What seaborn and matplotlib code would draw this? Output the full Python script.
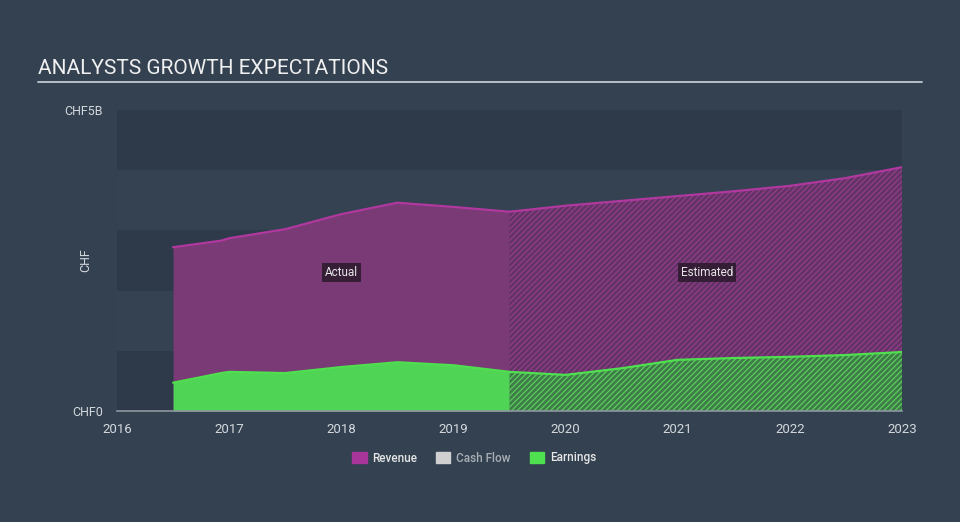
import matplotlib
matplotlib.use("Agg")
import matplotlib.pyplot as plt
import matplotlib.patches as mpatches
import seaborn as sns
import pandas as pd

# values in CHF billions
years = [2016.5, 2016.93, 2017.0, 2017.5, 2018.0, 2018.5, 2019.0, 2019.5,
         2020.0, 2020.5, 2021.0, 2021.5, 2022.0, 2022.5, 2023.0]
revenue = [2.72, 2.83, 2.87, 3.02, 3.27, 3.46, 3.39, 3.31,
           3.41, 3.49, 3.57, 3.65, 3.74, 3.87, 4.05]
earnings = [0.47, 0.63, 0.65, 0.63, 0.73, 0.81, 0.76, 0.65,
            0.60, 0.71, 0.85, 0.88, 0.90, 0.93, 0.98]
split_year = 2019.5
xticks = [2016, 2017, 2018, 2019, 2020, 2021, 2022, 2023]
ytick_labels = ["CHF0", "CHF5B"]
legend_labels = ["Revenue", "Cash Flow", "Earnings"]

df = pd.DataFrame({"year": years, "Revenue": revenue, "Earnings": earnings})
actual = df[df["year"] <= split_year]
estimated = df[df["year"] >= split_year]

BG = "#334151"
BAND_DARK = "#2e3a4a"
BAND_LIGHT = "#344252"
REV_FILL = "#7a3a75"
REV_LINE = "#b0389f"
REV_EST = "#643365"
EARN_FILL = "#50d455"
EARN_LINE = "#4fe04f"
EARN_EST = "#3e7c47"
TXT = "#d4d8dc"

sns.set_style("dark")
plt.rcParams["font.family"] = ["Roboto", "DejaVu Sans"]
plt.rcParams["hatch.linewidth"] = 0.9

fig = plt.figure(figsize=(9.6, 5.22), dpi=100, facecolor=BG)
ax = fig.add_axes([117 / 960, (522 - 411) / 522, (902 - 117) / 960, 301 / 522])
ax.set_facecolor(BG)

# alternating bands, 1B each
for i in range(5):
    ax.axhspan(i, i + 1, color=BAND_DARK if i % 2 == 0 else BAND_LIGHT, zorder=0, lw=0)

# actual areas
ax.fill_between(actual["year"], 0, actual["Revenue"], color=REV_FILL, lw=0, zorder=1)
ax.fill_between(actual["year"], 0, actual["Earnings"], color=EARN_FILL, lw=0, zorder=2)

# estimated areas (hatched)
ax.fill_between(estimated["year"], 0, estimated["Revenue"], facecolor=REV_EST,
                edgecolor="#923d8b", hatch="//////", lw=0, zorder=1)
ax.fill_between(estimated["year"], 0, estimated["Earnings"], facecolor=EARN_EST,
                edgecolor="#5ccc5e", hatch="//////", lw=0, zorder=2)

sns.lineplot(data=df, x="year", y="Revenue", ax=ax, color=REV_LINE, lw=1.6, zorder=3)
sns.lineplot(data=df, x="year", y="Earnings", ax=ax, color=EARN_LINE, lw=1.6, zorder=3)

ax.set_xlim(2016, 2023)
ax.set_ylim(0, 5)
ax.set_xticks(xticks)
ax.set_xticklabels([str(x) for x in xticks], color=TXT, fontsize=9.5)
ax.set_yticks([0, 5])
ax.set_yticklabels(ytick_labels, color=TXT, fontsize=9)
ax.tick_params(axis="x", direction="out", length=8, width=1, color="#8d97a1", pad=0.5)
ax.tick_params(axis="y", length=0, pad=10)
ax.set_xlabel("")
ax.set_ylabel("CHF", color=TXT, fontsize=9)
ax.yaxis.set_label_coords(-0.031, 0.5)
for side in ["top", "right", "left"]:
    ax.spines[side].set_visible(False)
ax.spines["bottom"].set_visible(True)
ax.spines["bottom"].set_color("#8d97a1")
ax.spines["bottom"].set_linewidth(1.2)
ax.grid(False)

box = dict(boxstyle="square,pad=0.25", facecolor="#2a1a2c", edgecolor="none", alpha=0.85)
ax.text(2018.0, 2.3, "Actual", color="#e6e6e6", fontsize=8.5, ha="center", va="center",
        bbox=box, zorder=4)
ax.text(2021.26, 2.3, "Estimated", color="#e6e6e6", fontsize=8.5, ha="center", va="center",
        bbox=box, zorder=4)

# title and rule
fig.text(38 / 960, 1 - 68 / 522, "ANALYSTS GROWTH EXPECTATIONS", color="#f0f0f0",
         fontsize=15, ha="left", va="center")
fig.add_artist(plt.Line2D([38 / 960, 922 / 960], [1 - 82 / 522, 1 - 82 / 522],
                          color="#c4c8cc", lw=1.3))

handles = [mpatches.Patch(color="#a8359a"), mpatches.Patch(color="#d0d0d0"),
           mpatches.Patch(color="#4fe04f")]
leg = fig.legend(handles, legend_labels, loc="center", bbox_to_anchor=(0.494, 1 - 458 / 522),
                 ncol=3, frameon=False, fontsize=8.5, handlelength=1.2, handleheight=1.0,
                 columnspacing=1.6, handletextpad=0.5)
for t, c in zip(leg.get_texts(), ["#e6e6e6", "#a8aeb4", "#e6e6e6"]):
    t.set_color(c)
    t.set_fontweight("medium")

fig.savefig("out.png", dpi=100, facecolor=BG)
